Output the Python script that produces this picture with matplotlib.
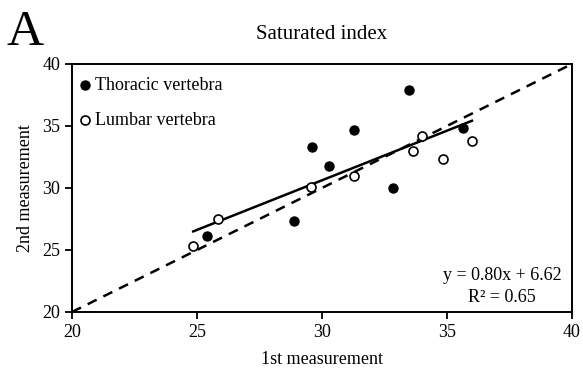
import numpy as np
import matplotlib.pyplot as plt

plt.rcParams['font.family'] = ['Liberation Serif', 'DejaVu Serif']

# thoracic vertebra (filled)
thor_x = [25.4, 28.9, 29.6, 30.3, 31.3, 32.85, 33.5, 35.65]
thor_y = [26.1, 27.3, 33.3, 31.8, 34.7, 30.0, 37.9, 34.8]
# lumbar vertebra (open)
lum_x = [24.85, 25.85, 29.55, 31.3, 33.65, 34.0, 34.85, 36.0]
lum_y = [25.3, 27.5, 30.1, 31.0, 33.0, 34.2, 32.3, 33.8]

slope, intercept = 0.80, 6.62
fit_x = [24.85, 36.0]

fig = plt.figure(figsize=(5.83, 3.72), dpi=100)
ax = fig.add_axes([0.1235, 0.1613, 0.8575, 0.6667])

ax.plot([20, 40], [20, 40], color='black', linestyle=(0, (4, 3)), linewidth=1.8, zorder=1)
fx = np.array(fit_x)
ax.plot(fx, slope * fx + intercept, color='black', linewidth=1.8, zorder=2)

ax.scatter(thor_x, thor_y, s=42, color='black', label='Thoracic vertebra', zorder=3)
ax.scatter(lum_x, lum_y, s=42, facecolor='white', edgecolor='black', linewidth=1.2,
           label='Lumbar vertebra', zorder=3)

ax.set_xlim(20, 40)
ax.set_ylim(20, 40)
ax.set_xticks([20, 25, 30, 35, 40])
ax.set_yticks([20, 25, 30, 35, 40])
ax.tick_params(direction='out', length=5, width=1.3, labelsize=13)
for sp in ax.spines.values():
    sp.set_linewidth(1.4)

ax.set_xlabel('1st measurement', fontsize=13, labelpad=7)
ax.set_ylabel('2nd measurement', fontsize=13, labelpad=6)
ax.set_title('Saturated index', fontsize=15, pad=18)

ax.legend(loc='upper left', bbox_to_anchor=(-0.025, 1.015), frameon=False, fontsize=13,
          handletextpad=0.05, labelspacing=1.0, borderpad=0.4, handlelength=1.0)

ax.text(0.86, 0.025, 'y = 0.80x + 6.62\nR² = 0.65', transform=ax.transAxes,
        ha='center', va='bottom', fontsize=13, linespacing=1.35)

fig.text(0.012, 0.879, 'A', fontsize=37)

fig.savefig('out.png', dpi=100)
